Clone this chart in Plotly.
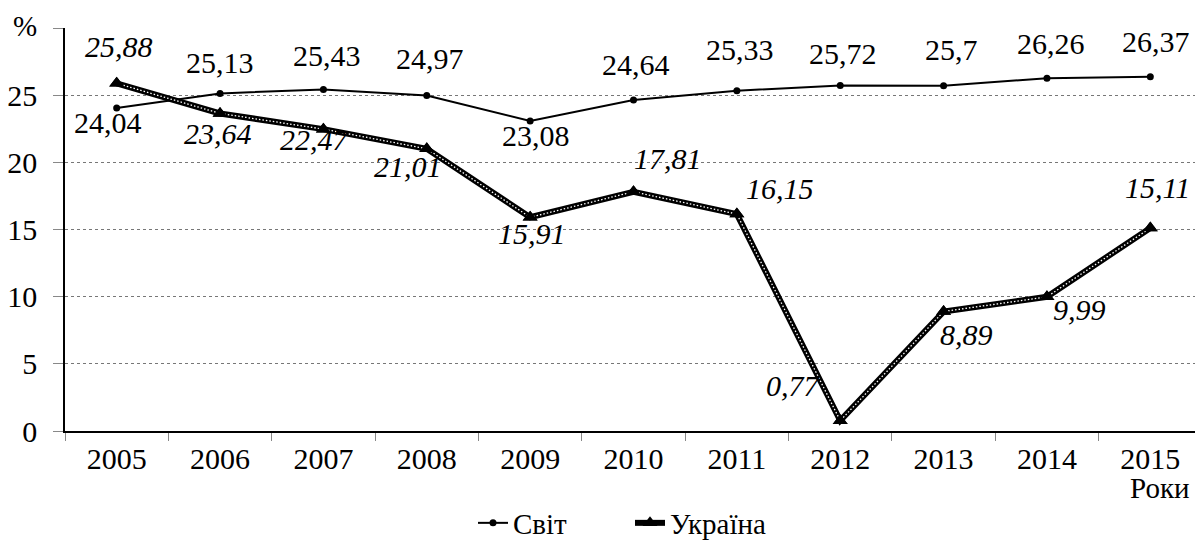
import plotly.graph_objects as go

years = ["2005", "2006", "2007", "2008", "2009", "2010", "2011", "2012", "2013", "2014", "2015"]
world = [24.04, 25.13, 25.43, 24.97, 23.08, 24.64, 25.33, 25.72, 25.7, 26.26, 26.37]
ukraine = [25.88, 23.64, 22.47, 21.01, 15.91, 17.81, 16.15, 0.77, 8.89, 9.99, 15.11]
y_ticks = [0, 5, 10, 15, 20, 25, 30]
y_tick_labels = ["0", "5", "10", "15", "20", "25", ""]

# label offsets in pixels (dx, dy) relative to each point
world_off = [(-9, -15), (0, 30), (4, 33), (3, 36), (6, -16), (2, 35), (3, 40), (3, 31), (8, 35), (4, 34), (6, 34)]
ukr_off = [(2, 36), (-2, -21), (-8, -11), (-19, -19), (2, -17), (34, 32), (43, 25), (-47, 34), (23, -24), (33, -14), (7, 40)]

FONT = "Liberation Serif"
BODY = 8  # default page body margin shifts the figure

def fmt(v):
    return ("%g" % v).replace(".", ",")

fig = go.Figure()
fig.add_trace(go.Scatter(
    x=years, y=world, mode="lines+markers", name="Світ",
    line=dict(color="black", width=2),
    marker=dict(symbol="circle", size=7, color="black"),
))
fig.add_trace(go.Scatter(
    x=years, y=ukraine, mode="lines+markers", name="Україна",
    line=dict(color="black", width=6),
    marker=dict(symbol="triangle-up", size=13, color="black"),
))
fig.add_trace(go.Scatter(
    x=years, y=ukraine, mode="lines", showlegend=False, hoverinfo="skip",
    line=dict(color="white", width=1.3, dash="1.5px,2px"),
))
fig.add_trace(go.Scatter(
    x=years, y=ukraine, mode="markers", showlegend=False, hoverinfo="skip",
    marker=dict(symbol="triangle-up", size=13, color="black"),
))

ann = []
for i, (v, (dx, dy)) in enumerate(zip(world, world_off)):
    ann.append(dict(x=i, y=v, xref="x", yref="y", text=fmt(v), showarrow=False,
                    xshift=dx, yshift=dy + 1, font=dict(family=FONT, size=30, color="black")))
for i, (v, (dx, dy)) in enumerate(zip(ukraine, ukr_off)):
    ann.append(dict(x=i, y=v, xref="x", yref="y", text="<i>" + fmt(v) + "</i>", showarrow=False,
                    xshift=dx, yshift=dy + 1, font=dict(family=FONT, size=30, color="black")))

W, H = 1203 - BODY, 540 - BODY
ml, mr, mt, mb = 65 - BODY, 1, 28 - BODY, 109
pw, ph = W - ml - mr, H - mt - mb

def px(x, y):
    return (x - BODY - ml) / pw, 1 - (y - BODY - mt) / ph

xx, yy = px(25, BODY)
ann.append(dict(x=xx, y=yy, xref="paper", yref="paper", text="%", showarrow=False,
                xanchor="center", yanchor="top", font=dict(family=FONT, size=29, color="black")))
xx, yy = px(1160, 488)
ann.append(dict(x=xx, y=yy, xref="paper", yref="paper", text="Роки", showarrow=False,
                xanchor="center", yanchor="middle", font=dict(family=FONT, size=29, color="black")))

lx, ly = px(630, 523)
fig.update_layout(
    width=W, height=H,
    margin=dict(l=ml, r=mr, t=mt, b=mb, autoexpand=False),
    paper_bgcolor="white", plot_bgcolor="white",
    font=dict(family=FONT, size=30, color="black"),
    showlegend=True,
    legend=dict(orientation="h", x=lx, xanchor="center", y=ly, yanchor="middle",
                font=dict(family=FONT, size=29, color="black"),
                entrywidth=112, bgcolor="rgba(0,0,0,0)"),
    annotations=ann,
)
fig.update_xaxes(
    type="category", showline=True, linecolor="black", linewidth=1.5,
    ticks="outside", tickson="boundaries", ticklen=8, tickcolor="#888", tickwidth=1,
    showgrid=False, range=[-0.5, 10.5], tickfont=dict(family=FONT, size=30),
)
fig.update_yaxes(
    range=[0, 30], tickvals=y_ticks, ticktext=y_tick_labels,
    showline=True, linecolor="black", linewidth=1.5,
    ticks="outside", ticklen=10, tickcolor="#888", tickwidth=1, ticklabelstandoff=10,
    showgrid=True, gridcolor="#777", gridwidth=1, griddash="dot",
    zeroline=False, tickfont=dict(family=FONT, size=30),
)

fig.write_html("out.html")
